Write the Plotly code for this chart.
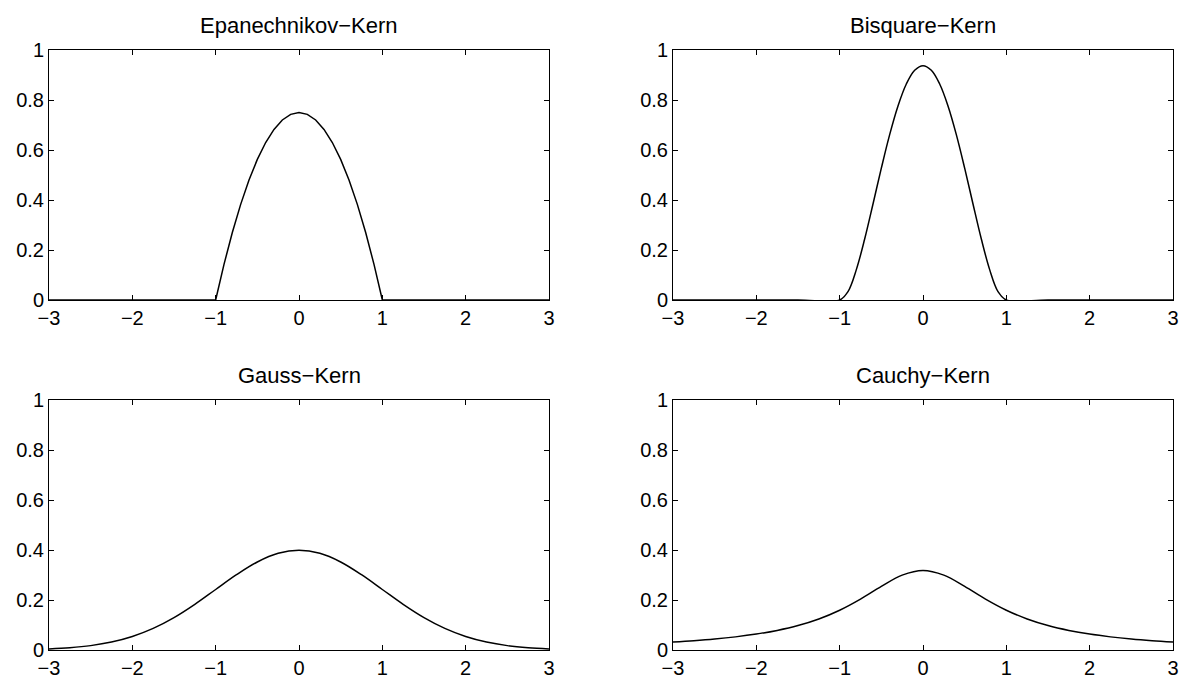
import plotly.graph_objects as go

# ---- data ----
x_epa = [-3, -1, -0.9, -0.8, -0.7, -0.6, -0.5, -0.4, -0.3, -0.2, -0.1, 0,
         0.1, 0.2, 0.3, 0.4, 0.5, 0.6, 0.7, 0.8, 0.9, 1, 3]
y_epa = [0, 0, 0.1425, 0.27, 0.3825, 0.48, 0.5625, 0.63, 0.6825, 0.72, 0.7425, 0.75,
         0.7425, 0.72, 0.6825, 0.63, 0.5625, 0.48, 0.3825, 0.27, 0.1425, 0, 0]

x_bis = [-3, -1.5, -1, -0.9, -0.8, -0.7, -0.6, -0.5, -0.4, -0.3, -0.2, -0.1, 0,
         0.1, 0.2, 0.3, 0.4, 0.5, 0.6, 0.7, 0.8, 0.9, 1, 1.5, 3]
y_bis = [0, 0, 0, 0.0338, 0.1215, 0.2438, 0.384, 0.5273, 0.6615, 0.7763, 0.864, 0.9188, 0.9375,
         0.9188, 0.864, 0.7763, 0.6615, 0.5273, 0.384, 0.2438, 0.1215, 0.0338, 0, 0, 0]

x_gc = [-3, -2.75, -2.5, -2.25, -2, -1.75, -1.5, -1.25, -1, -0.75, -0.5, -0.25, 0,
        0.25, 0.5, 0.75, 1, 1.25, 1.5, 1.75, 2, 2.25, 2.5, 2.75, 3]
y_gauss = [0.0044, 0.0091, 0.0175, 0.0317, 0.054, 0.0863, 0.1295, 0.1826, 0.242, 0.3011, 0.3521, 0.3867, 0.3989,
           0.3867, 0.3521, 0.3011, 0.242, 0.1826, 0.1295, 0.0863, 0.054, 0.0317, 0.0175, 0.0091, 0.0044]
y_cauchy = [0.0318, 0.0372, 0.0439, 0.0525, 0.0637, 0.0784, 0.0979, 0.1242, 0.1592, 0.2037, 0.2546, 0.2996, 0.3183,
            0.2996, 0.2546, 0.2037, 0.1592, 0.1242, 0.0979, 0.0784, 0.0637, 0.0525, 0.0439, 0.0372, 0.0318]

titles = ["Epanechnikov−Kern", "Bisquare−Kern", "Gauss−Kern", "Cauchy−Kern"]
x_ticks = [-3, -2, -1, 0, 1, 2, 3]
y_ticks = [0, 0.2, 0.4, 0.6, 0.8, 1]

# ---- layout geometry ----
W, H = 1182, 678
xdom = [[49 / W, 549 / W], [673 / W, 1173 / W]]
ydom_top = [(H - 300) / H, (H - 50) / H]
ydom_bot = [(H - 650) / H, (H - 400) / H]

FONT = "Liberation Sans, Arial, Helvetica, sans-serif"
TICK_SIZE = 20
TITLE_SIZE = 22

fig = go.Figure()
series = [(x_epa, y_epa, "linear"), (x_bis, y_bis, "spline"),
          (x_gc, y_gauss, "spline"), (x_gc, y_cauchy, "spline")]
doms = [(xdom[0], ydom_top), (xdom[1], ydom_top), (xdom[0], ydom_bot), (xdom[1], ydom_bot)]

layout = dict(
    template="none",
    width=W, height=H, margin=dict(l=0, r=0, t=0, b=0, autoexpand=False),
    paper_bgcolor="white", plot_bgcolor="white", showlegend=False,
    font=dict(family=FONT, size=TICK_SIZE, color="black"),
)
annotations = []
for i, ((xs, ys, shape), (xd, yd)) in enumerate(zip(series, doms), start=1):
    suffix = "" if i == 1 else str(i)
    fig.add_trace(go.Scatter(x=xs, y=ys, mode="lines", line=dict(color="black", width=1.5, shape=shape),
                             xaxis="x" + suffix, yaxis="y" + suffix, hoverinfo="skip"))
    axcommon = dict(showline=True, linecolor="black", linewidth=1, mirror="ticks",
                    ticks="inside", ticklen=5, tickwidth=1, tickcolor="black",
                    showgrid=False, zeroline=False, automargin=False,
                    tickfont=dict(family=FONT, size=TICK_SIZE, color="black"))
    layout["xaxis" + suffix] = dict(domain=xd, range=[-3, 3], tickvals=x_ticks,
                                    anchor="y" + suffix, **axcommon)
    layout["yaxis" + suffix] = dict(domain=yd, range=[0, 1], tickvals=y_ticks,
                                    anchor="x" + suffix, **axcommon)
    annotations.append(dict(text=titles[i - 1], xref="paper", yref="paper",
                            x=(xd[0] + xd[1]) / 2, y=yd[1] + 25 / H, xanchor="center", yanchor="middle",
                            showarrow=False, font=dict(family=FONT, size=TITLE_SIZE, color="black")))
layout["annotations"] = annotations
fig.update_layout(**layout)
fig.write_html("out.html")
